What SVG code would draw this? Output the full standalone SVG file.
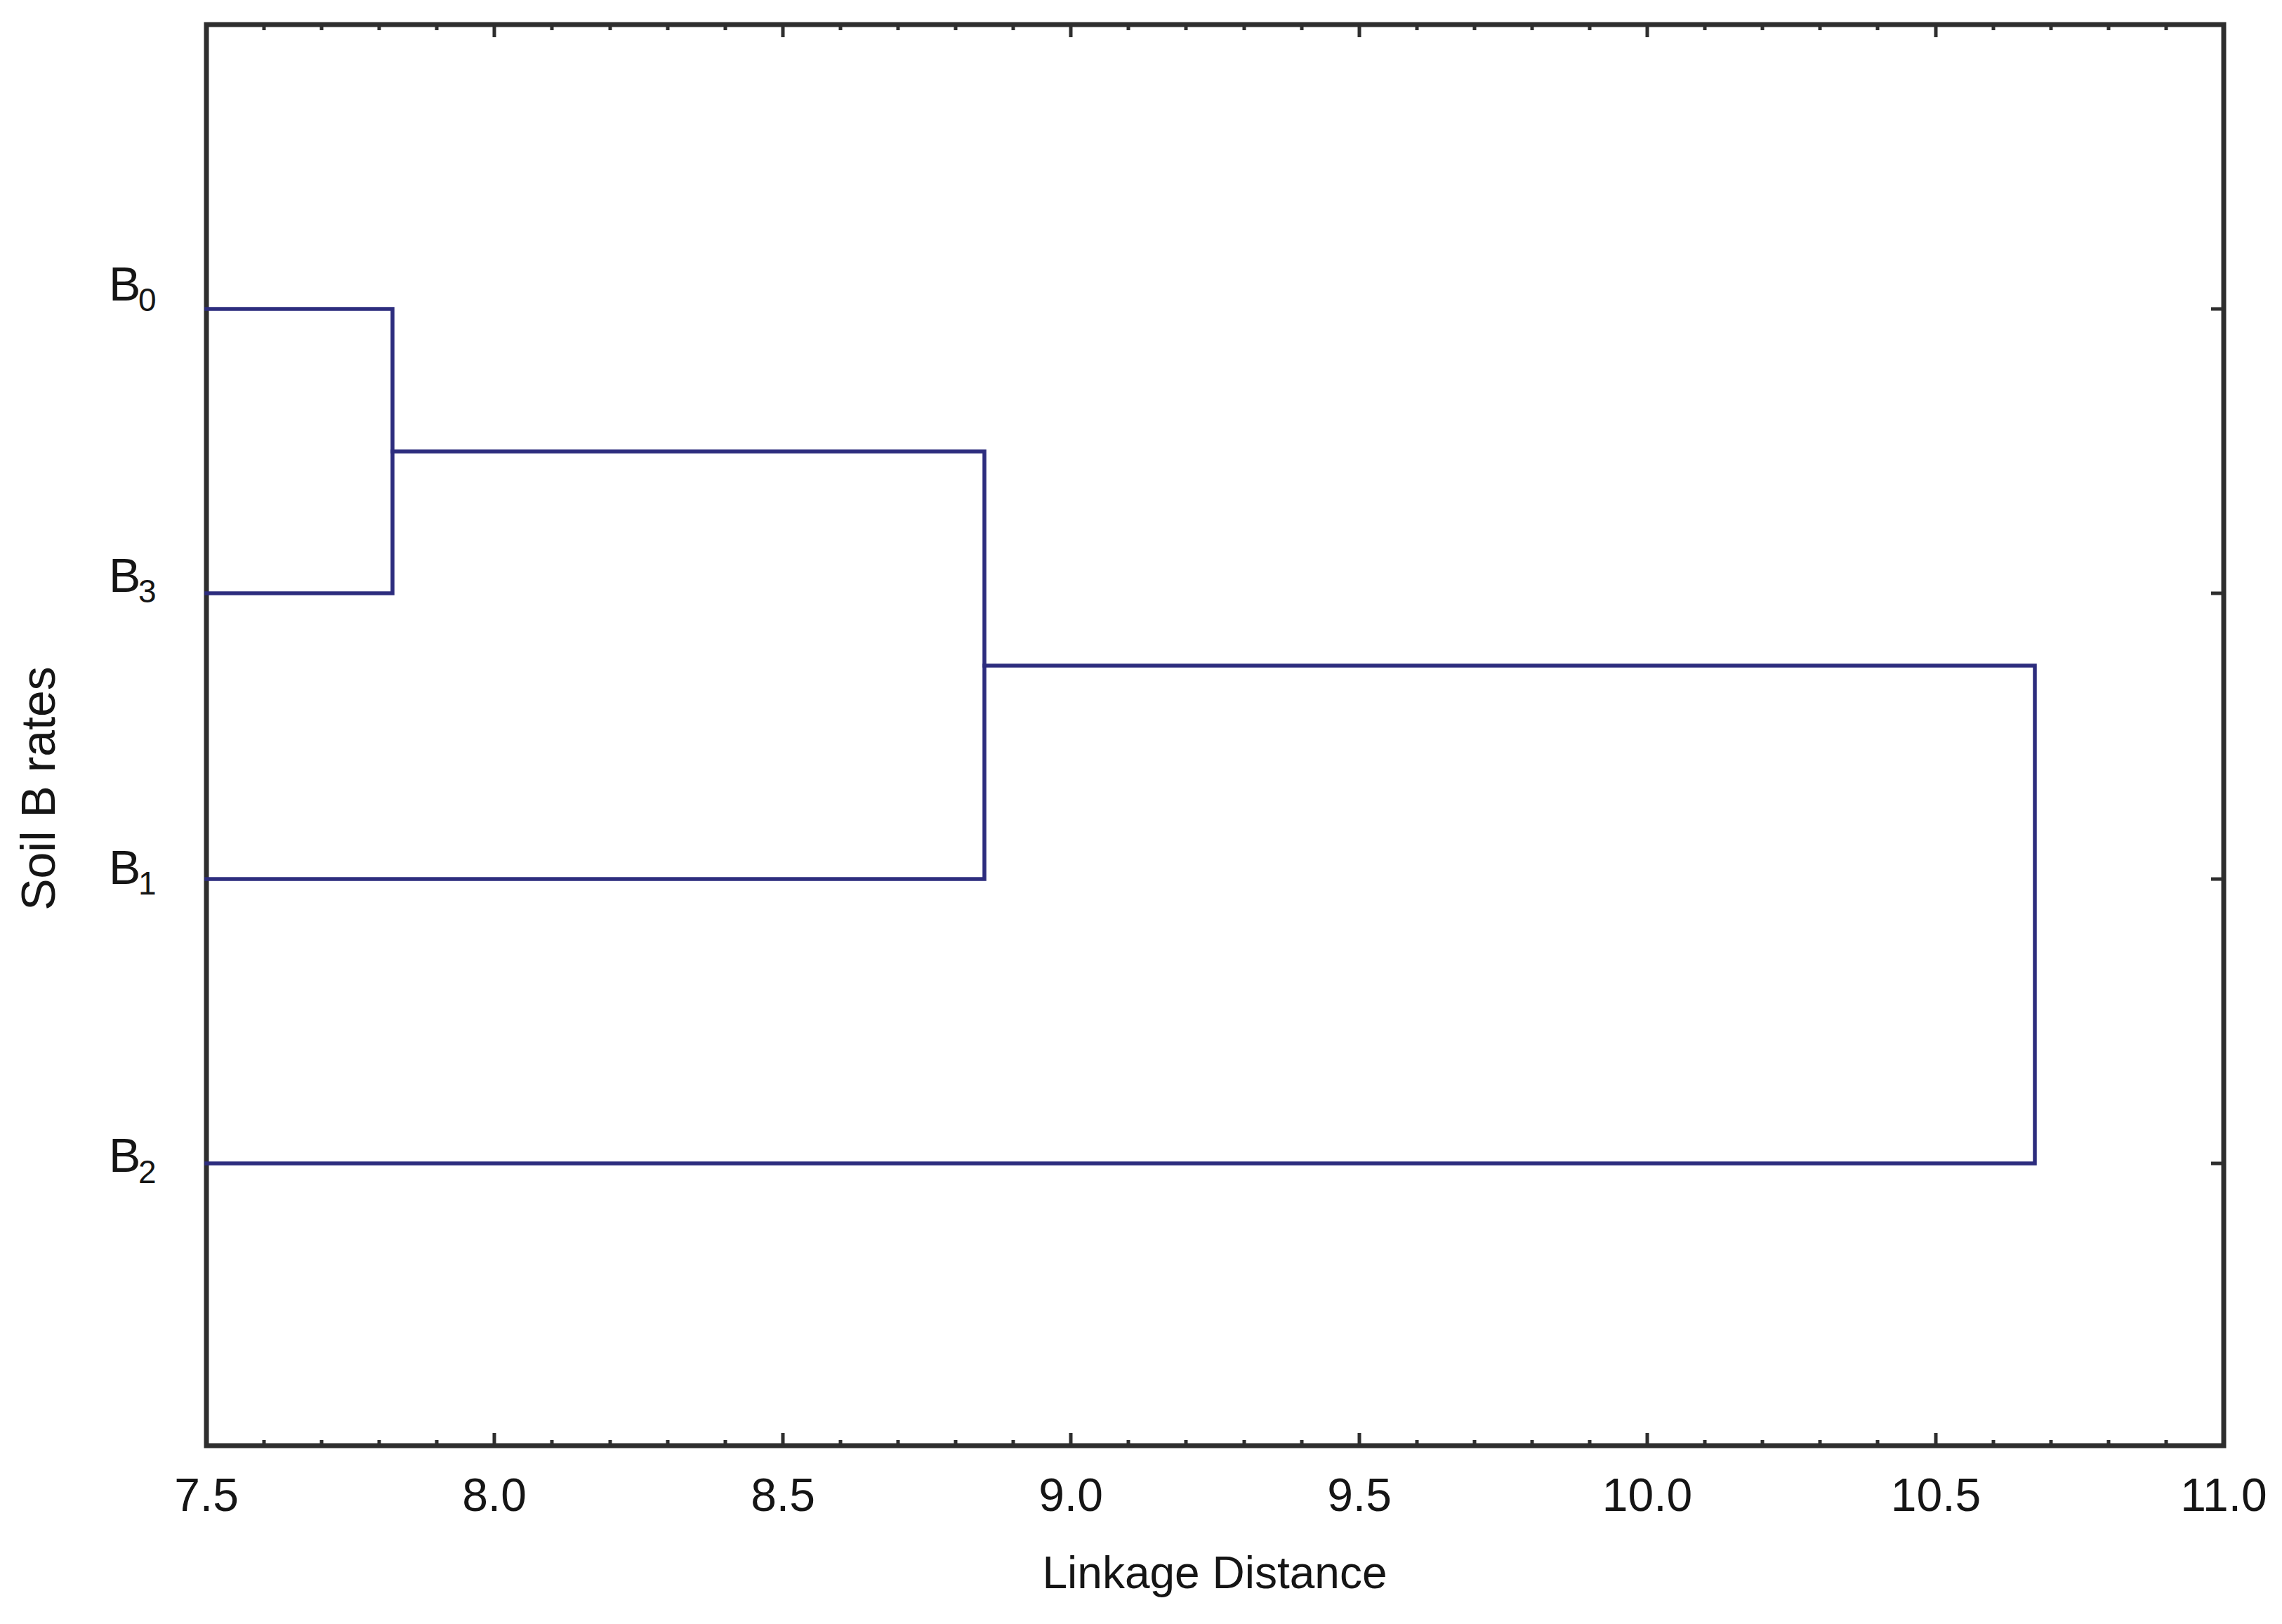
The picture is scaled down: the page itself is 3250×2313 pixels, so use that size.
<svg xmlns="http://www.w3.org/2000/svg" width="3250" height="2313" viewBox="0 0 3250 2313">
<style>
.axis{fill:none;stroke:#2e2e2e;stroke-width:7;stroke-linecap:square}
.tick{stroke:#2e2e2e;stroke-width:5}
.link{fill:none;stroke:#2d2d7e;stroke-width:5.5;stroke-linejoin:miter;stroke-linecap:square}
.lbl{font-family:"Liberation Sans",Arial,sans-serif;fill:#151515}
.tl{font-size:66px;text-anchor:middle}
.leaf{font-size:68px}
.sub{font-size:46px}
</style>
<rect width="3250" height="2313" fill="#ffffff"/>
<g id="axes">
<rect class="axis" x="294" y="35" width="2873" height="2024"/>
<path class="tick" d="M376 2059v-8M458 2059v-8M540 2059v-8M622 2059v-8M786 2059v-8M869 2059v-8M951 2059v-8M1033 2059v-8M1197 2059v-8M1279 2059v-8M1361 2059v-8M1443 2059v-8M1607 2059v-8M1689 2059v-8M1772 2059v-8M1854 2059v-8M2018 2059v-8M2100 2059v-8M2182 2059v-8M2264 2059v-8M2428 2059v-8M2510 2059v-8M2592 2059v-8M2674 2059v-8M2839 2059v-8M2921 2059v-8M3003 2059v-8M3085 2059v-8"/>
<path class="tick" d="M704 2059v-18M1115 2059v-18M1525 2059v-18M1936 2059v-18M2346 2059v-18M2757 2059v-18"/>
<path class="tick" d="M376 35v8M458 35v8M540 35v8M622 35v8M786 35v8M869 35v8M951 35v8M1033 35v8M1197 35v8M1279 35v8M1361 35v8M1443 35v8M1607 35v8M1689 35v8M1772 35v8M1854 35v8M2018 35v8M2100 35v8M2182 35v8M2264 35v8M2428 35v8M2510 35v8M2592 35v8M2674 35v8M2839 35v8M2921 35v8M3003 35v8M3085 35v8"/>
<path class="tick" d="M704 35v18M1115 35v18M1525 35v18M1936 35v18M2346 35v18M2757 35v18"/>
<path class="tick" d="M3167 440h-18M3167 845h-18M3167 1252h-18M3167 1657h-18"/>
</g>
<g id="x-labels" class="lbl tl">
<text x="294" y="2152">7.5</text>
<text x="704" y="2152">8.0</text>
<text x="1115" y="2152">8.5</text>
<text x="1525" y="2152">9.0</text>
<text x="1936" y="2152">9.5</text>
<text x="2346" y="2152">10.0</text>
<text x="2757" y="2152">10.5</text>
<text x="3167" y="2152">11.0</text>
</g>
<g id="leaf-B0" class="lbl"><text class="leaf" x="155" y="428">B</text><text class="sub" x="197" y="443">0</text></g>
<g id="leaf-B3" class="lbl"><text class="leaf" x="155" y="843">B</text><text class="sub" x="197" y="858">3</text></g>
<g id="leaf-B1" class="lbl"><text class="leaf" x="155" y="1259">B</text><text class="sub" x="197" y="1274">1</text></g>
<g id="leaf-B2" class="lbl"><text class="leaf" x="155" y="1669">B</text><text class="sub" x="197" y="1685">2</text></g>
<g id="connectors">
<path class="link" d="M294 440H559V845H294"/>
<path class="link" d="M559 643H1402V1252H294"/>
<path class="link" d="M1402 948H2898V1657H294"/>
</g>
<g id="titles" class="lbl">
<text x="1730" y="2262" font-size="64" text-anchor="middle">Linkage Distance</text>
<text transform="translate(78 1123) rotate(-90)" font-size="68" text-anchor="middle">Soil B rates</text>
</g>
</svg>
